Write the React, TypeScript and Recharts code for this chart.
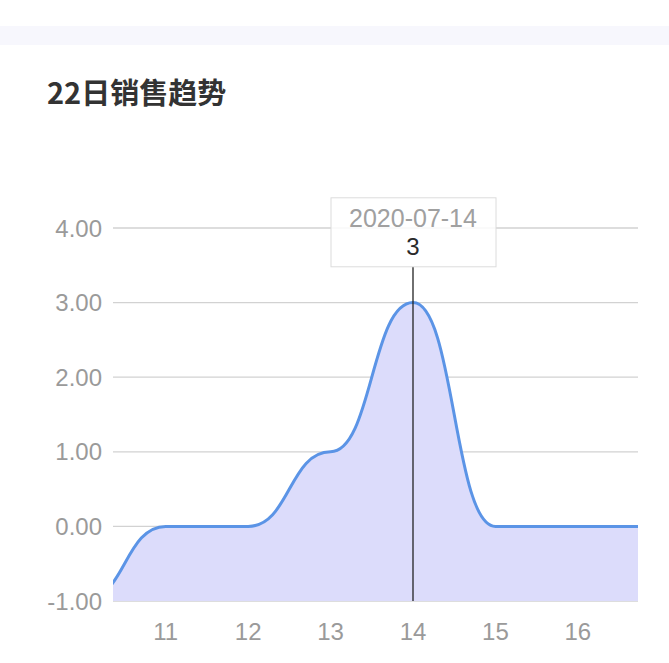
import { AreaChart, Area, XAxis, YAxis, CartesianGrid, ReferenceLine } from "recharts";

// day of month (July 2020) and sales count
const days = [10, 11, 12, 13, 14, 15, 16, 17];
const sales = [-1, 0, 0, 1, 3, 0, 0, 0];
const yTicks = [-1, 0, 1, 2, 3, 4];
const xTicks = [11, 12, 13, 14, 15, 16];
const activeDay = 14;
const activeDate = "2020-07-14";

const chartData = days.map((d, i) => ({ day: d, value: sales[i] }));

const TipLabel = (props: any) => {
  const { viewBox } = props;
  const cx = viewBox.x;
  const top = viewBox.y - 69;
  const value = sales[days.indexOf(activeDay)];
  return (
    <g>
      <rect x={cx - 82} y={top} width={165} height={69} fill="#fff" fillOpacity={0.85} stroke="#dcdcdc" />
      <text x={cx} y={top + 29} textAnchor="middle" fill="#a0a0a0" fontSize={25}>
        {activeDate}
      </text>
      <text x={cx} y={top + 57} textAnchor="middle" fill="#2a2a2a" fontSize={24}>
        {value}
      </text>
    </g>
  );
};

export default function App() {
  return (
    <div style={{ position: "absolute", left: 0, top: 0, width: 669, height: 663, background: "#fff", fontFamily: "'Liberation Sans', 'Noto Sans CJK SC', sans-serif" }}>
      <div style={{ position: "absolute", left: 0, top: 26, width: 669, height: 19, background: "#f7f7fd" }} />
      <div style={{ position: "absolute", left: 47, top: 77, fontSize: 29, fontWeight: 700, color: "#333", fontFamily: "'Noto Sans CJK SC', sans-serif", lineHeight: "29px", whiteSpace: "nowrap" }}>
        22日销售趋势
      </div>
      <div style={{ position: "absolute", left: 0, top: 0 }}>
        <AreaChart width={669} height={663} data={chartData} margin={{ top: 228, right: 31, bottom: 0, left: 0 }}>
          <CartesianGrid horizontal vertical={false} stroke="#d2d2d2" strokeWidth={1.3} />
          <XAxis
            dataKey="day"
            type="number"
            domain={[10.36, 16.73]}
            allowDataOverflow
            ticks={xTicks}
            axisLine={false}
            tickLine={false}
            height={62}
            tickMargin={16}
            tick={{ fill: "#9a9a9a", fontSize: 24 }}
          />
          <YAxis
            type="number"
            domain={[-1, 4]}
            ticks={yTicks}
            width={113}
            axisLine={false}
            tickLine={false}
            tickMargin={5}
            tickFormatter={(v: number) => v.toFixed(2)}
            tick={{ fill: "#9a9a9a", fontSize: 24 }}
          />
          <Area
            type="bumpX"
            dataKey="value"
            baseValue={-1}
            stroke="#5b94e6"
            strokeWidth={3}
            fill="#dcdcfb"
            fillOpacity={1}
            dot={false}
            activeDot={false}
            isAnimationActive={false}
          />
          <ReferenceLine
            segment={[
              { x: activeDay, y: 3.48 },
              { x: activeDay, y: -1 },
            ]}
            stroke="#222"
            strokeWidth={1.3}
            label={<TipLabel />}
          />
        </AreaChart>
      </div>
    </div>
  );
}
